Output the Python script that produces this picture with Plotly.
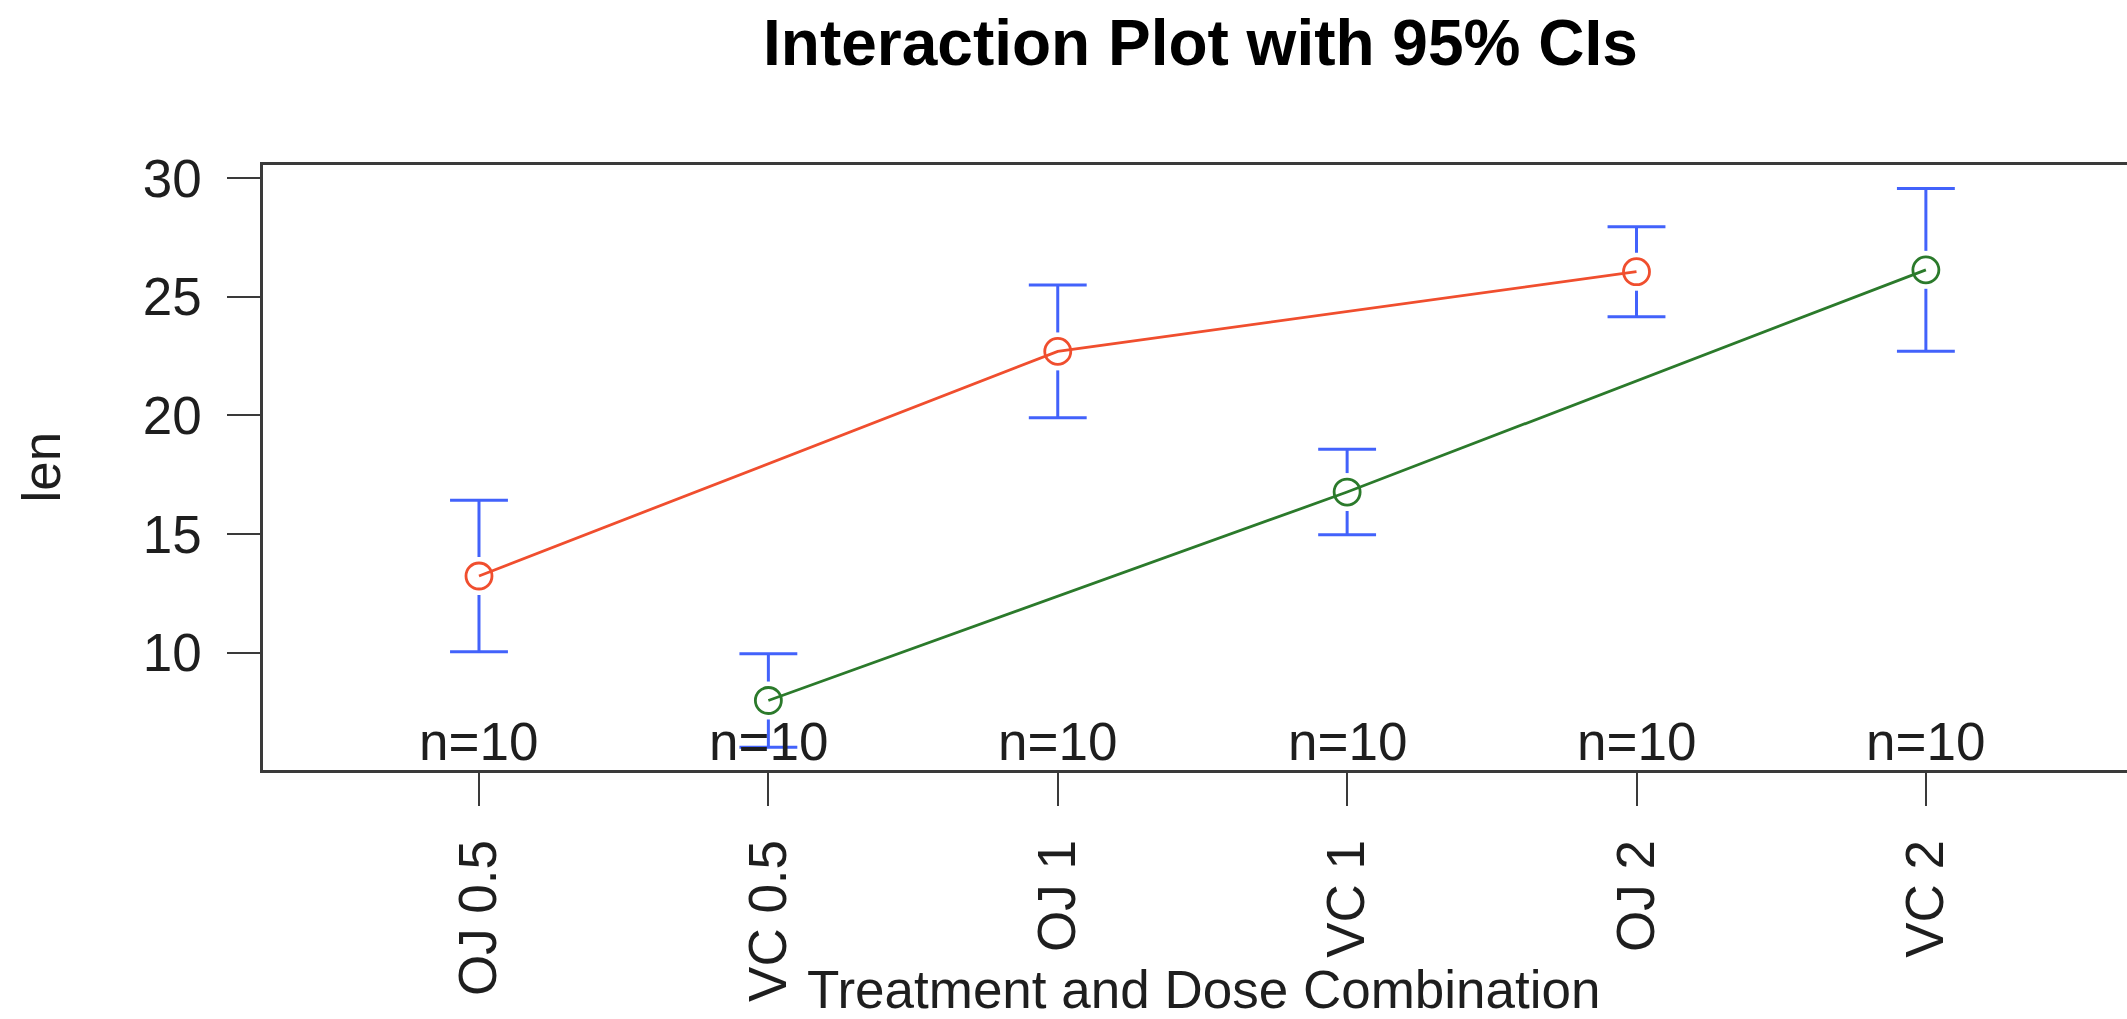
import plotly.graph_objects as go

# Tooth growth: mean length per supplement/dose with 95% confidence limits
categories = ["OJ 0.5", "VC 0.5", "OJ 1", "VC 1", "OJ 2", "VC 2"]
positions = [1, 2, 3, 4, 5, 6]
means = [13.23, 7.98, 22.70, 16.77, 26.06, 26.14]
lower_ci = [10.04, 6.01, 19.90, 14.97, 24.16, 22.71]
upper_ci = [16.42, 9.95, 25.50, 18.57, 27.96, 29.57]
n_counts = [10, 10, 10, 10, 10, 10]

oj_idx = [0, 2, 4]
vc_idx = [1, 3, 5]

FONT = "Liberation Sans, Arial, Helvetica, sans-serif"
TEXT = "#1e1e1e"
AXIS = "#3a3a3a"
RED = "#F04E2E"
GREEN = "#2B7A2B"
BLUE = "#4262FB"

W, H = 2127, 1019
M_L, M_R, M_T, M_B = 263, 0, 165, 249
PW, PH = W - M_L - M_R, H - M_T - M_B

cap_half = 0.1   # half width of the CI caps, x units
gap = 0.8        # gap left around each mean marker, y units

# CI whiskers split around the marker, plus caps
ci_x, ci_y = [], []
for p, m, lo, hi in zip(positions, means, lower_ci, upper_ci):
    ci_x += [p, p, None, p, p, None]
    ci_y += [m + gap, hi, None, lo, m - gap, None]
    ci_x += [p - cap_half, p + cap_half, None, p - cap_half, p + cap_half, None]
    ci_y += [hi, hi, None, lo, lo, None]

fig = go.Figure()

fig.add_trace(go.Scatter(
    x=ci_x, y=ci_y, mode="lines",
    line=dict(color=BLUE, width=3),
    hoverinfo="skip", showlegend=False,
))

for idx, col in ((oj_idx, RED), (vc_idx, GREEN)):
    fig.add_trace(go.Scatter(
        x=[positions[i] for i in idx],
        y=[means[i] for i in idx],
        mode="lines+markers",
        line=dict(color=col, width=2.8),
        marker=dict(symbol="circle-open", size=26, color=col,
                    line=dict(color=col, width=2.8)),
        showlegend=False,
    ))

annotations = []
for p, n in zip(positions, n_counts):
    annotations.append(dict(
        x=p, y=6.27, xref="x", yref="y", text=f"n={n}", showarrow=False,
        xanchor="center", yanchor="middle",
        font=dict(family=FONT, size=53, color=TEXT),
    ))

def px_to_paper_x(px):
    return (px - M_L) / PW

def px_to_paper_y(py):
    return (M_T + PH - py) / PH

annotations.append(dict(
    x=px_to_paper_x(1200.5), y=px_to_paper_y(43), xref="paper", yref="paper",
    text="<b>Interaction Plot with 95% CIs</b>", showarrow=False,
    xanchor="center", yanchor="middle",
    font=dict(family=FONT, size=64, color="#000000"),
))
annotations.append(dict(
    x=px_to_paper_x(1203.5), y=px_to_paper_y(989), xref="paper", yref="paper",
    text="Treatment and Dose Combination", showarrow=False,
    xanchor="center", yanchor="middle",
    font=dict(family=FONT, size=53, color=TEXT),
))
annotations.append(dict(
    x=px_to_paper_x(41), y=0.5, xref="paper", yref="paper",
    text="len", showarrow=False, textangle=-90,
    xanchor="center", yanchor="middle",
    font=dict(family=FONT, size=53, color=TEXT),
))

fig.update_layout(
    width=W, height=H,
    margin=dict(l=M_L, r=M_R, t=M_T, b=M_B, pad=0),
    paper_bgcolor="white", plot_bgcolor="white",
    font=dict(family=FONT, size=53, color=TEXT),
    annotations=annotations,
    xaxis=dict(
        range=[0.2536, 6.695], tickmode="array", tickvals=positions,
        ticktext=categories, tickangle=-90,
        showgrid=False, zeroline=False,
        showline=True, linecolor=AXIS, linewidth=2.5, mirror=True,
        ticks="outside", ticklen=33, tickwidth=2, tickcolor=AXIS,
        ticklabelstandoff=13,
        tickfont=dict(family=FONT, size=53, color=TEXT),
    ),
    yaxis=dict(
        range=[5.05, 30.56], tickmode="array", tickvals=[10, 15, 20, 25, 30],
        showgrid=False, zeroline=False,
        showline=True, linecolor=AXIS, linewidth=2.5, mirror=False,
        ticks="outside", ticklen=33, tickwidth=2, tickcolor=AXIS,
        ticklabelstandoff=15,
        tickfont=dict(family=FONT, size=53, color=TEXT),
    ),
)

fig.write_html("out.html")
